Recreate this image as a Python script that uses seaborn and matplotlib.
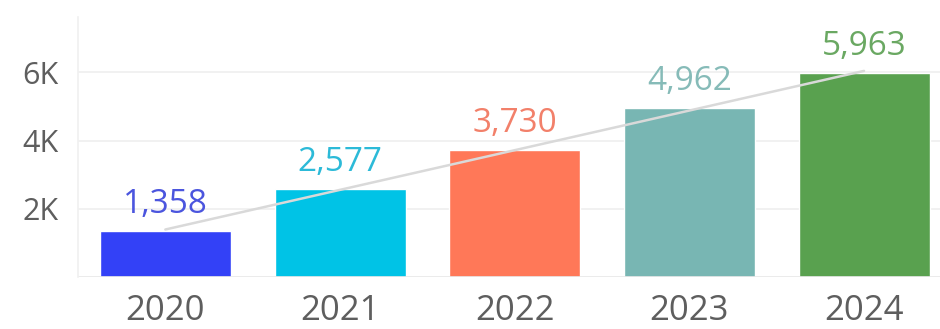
import numpy as np
import pandas as pd
import matplotlib
matplotlib.use("Agg")
import matplotlib.pyplot as plt
import seaborn as sns

years = ["2020", "2021", "2022", "2023", "2024"]
values = [1358, 2577, 3730, 4962, 5963]
bar_colors = ["#3341f7", "#00c3e6", "#ff7858", "#78b6b3", "#59a14f"]
label_colors = ["#4b55de", "#2cbad8", "#f2806a", "#86bbb8", "#6aa862"]
y_ticks = [2000, 4000, 6000]
y_tick_labels = ["2K", "4K", "6K"]

sns.set_theme(style="white")
plt.rcParams["font.family"] = ["Open Sans", "DejaVu Sans"]

df = pd.DataFrame({"year": years, "value": values})

fig = plt.figure(figsize=(9.4, 3.29), dpi=100)
ax = fig.add_axes([0.083, 0.157, 0.917, 0.79])

sns.barplot(data=df, x="year", y="value", hue="year", palette=bar_colors,
            width=0.75, legend=False, ax=ax, saturation=1)

# linear trend across the years
xs = np.arange(len(values))
slope, intercept = np.polyfit(xs, values, 1)
ax.plot([xs[0], xs[-1]], [intercept, intercept + slope * xs[-1]],
        color="#d9d9d9", lw=1.8, zorder=3, solid_capstyle="round")

for i, (v, c) in enumerate(zip(values, label_colors)):
    ax.annotate(f"{v:,}", (i, v), xytext=(0, 13), textcoords="offset points",
                ha="center", va="baseline", fontsize=24, color=c, zorder=4)

ax.set_ylim(0, 7600)
ax.set_xlim(-0.5, 4.435)
ax.set_yticks(y_ticks)
ax.set_yticklabels(y_tick_labels)
ax.set_xlabel("")
ax.set_ylabel("")

ax.grid(axis="y", color="#efefef", lw=1.2)
ax.set_axisbelow(True)
for s in ["top", "right", "bottom"]:
    ax.spines[s].set_visible(False)
ax.spines["left"].set_color("#f0f0f0")
ax.spines["left"].set_linewidth(1.2)
ax.axhline(0, color="#e8e8e8", lw=1.2, zorder=1)

# faint separators between categories below the baseline
ax.set_xticks(np.arange(-0.5, 4.5, 1.0), minor=True)
ax.tick_params(axis="x", which="minor", length=8, color="#eeeeee", width=1)
ax.tick_params(axis="x", which="major", length=0, pad=12, labelsize=25,
               labelcolor="#5e5e5e")
ax.tick_params(axis="y", length=0, pad=14, labelsize=22, labelcolor="#5e5e5e")

fig.savefig("out.png", dpi=100, facecolor="white")
